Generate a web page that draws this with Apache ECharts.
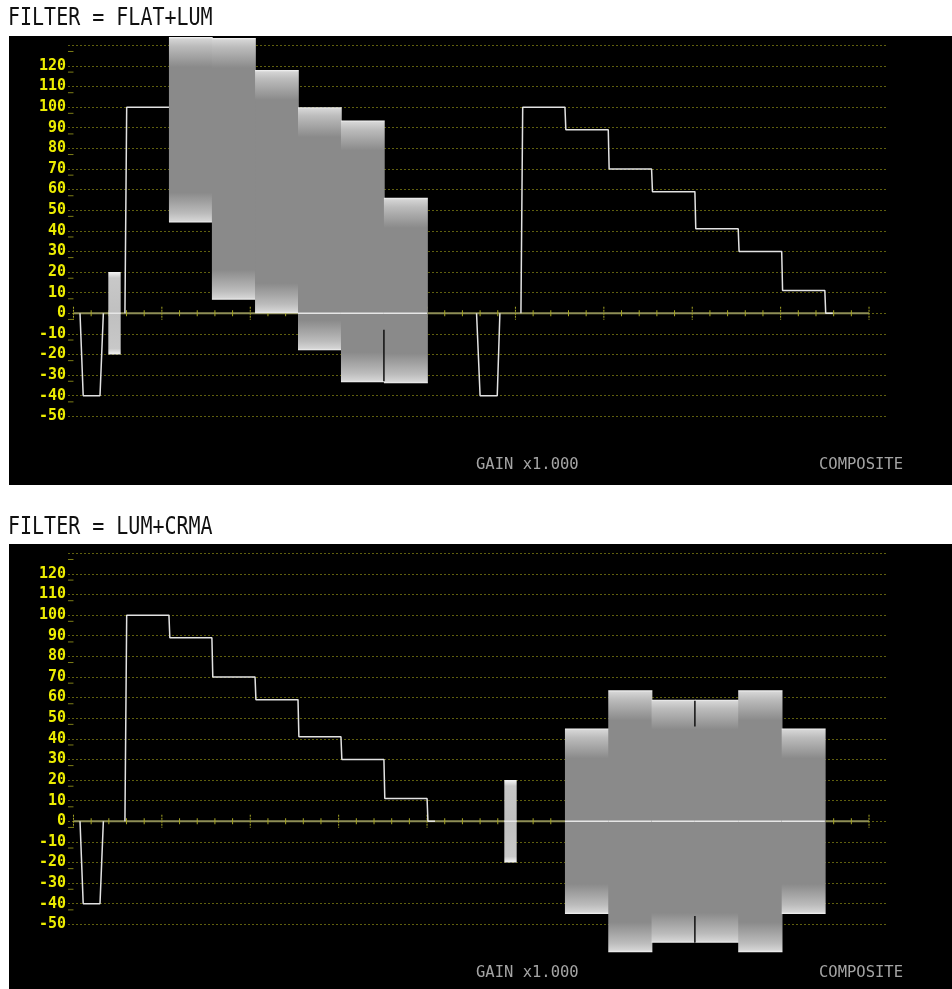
<!DOCTYPE html>
<html>
<head>
<meta charset="utf-8">
<title>Waveform monitor – FLAT+LUM / LUM+CRMA</title>
<script src="https://cdn.jsdelivr.net/npm/echarts@6/dist/echarts.min.js"></script>
<style>
  html, body { margin: 0; padding: 0; background: #ffffff; }
  #chart { width: 952px; height: 989px; }
</style>
</head>
<body>
<div id="chart"></div>
<script>
// ---- Graticule ---------------------------------------------------------
// Vertical scale in IRE, horizontal scale in graticule divisions (2H sweep).
const scaleLabels = [120, 110, 100, 90, 80, 70, 60, 50, 40, 30, 20, 10, 0, -10, -20, -30, -40, -50];
const refMarks = [127, 117, 107, 97, 87, 77, 67, 57, 47, 37, 27, 17, 7, -3, -13, -23, -33, -43];
const timeTicks = [0, 1, 2, 3, 4, 5, 6, 7, 8, 9, 10, 11, 12, 13, 14, 15, 16, 17, 18, 19, 20, 21, 22,
                   23, 24, 25, 26, 27, 28, 29, 30, 31, 32, 33, 34, 35, 36, 37, 38, 39, 40, 41, 42, 43, 44, 45];
const traceSpan = [0, 45];

// ---- 100% colour bar signal, two lines ---------------------------------
const syncTip = -40;
const burstHalf = 20;
// white, yellow, cyan, green, magenta, red, blue, black
const stepLuma = [100, 89, 70, 59, 41, 30, 11, 0];
const barChromaHalf = [45, 63.5, 59, 59, 63.5, 45];
const line1Edges = [3.01, 5.40, 7.83, 10.27, 12.70, 15.13, 17.56, 20.00];
const line2Edges = [25.41, 27.80, 30.25, 32.70, 35.15, 37.60, 40.06, 42.50];
const sync1 = [0.37, 0.55, 1.50, 1.69];
const sync2 = [22.80, 23.00, 23.97, 24.12];
const burst1 = [1.97, 2.67];
const burst2 = [24.37, 25.07];
// dark phase-switch seams inside the chroma envelopes: [time, from, to]
const seamsFlat = [[17.56, -8, -33]];
const seamsCrma = [[35.15, 58.5, 46], [35.15, -46, -59]];

// ---- Builders ----------------------------------------------------------
function syncPulse(s) {
  return [[s[0], 0], [s[1], syncTip], [s[2], syncTip], [s[3], 0]];
}
function staircase(edges) {
  const pts = [[edges[0] - 0.1, 0], [edges[0], stepLuma[0]]];
  for (let i = 1; i < edges.length; i++) {
    pts.push([edges[i], stepLuma[i - 1]]);
    pts.push([edges[i] + 0.05, stepLuma[i]]);
  }
  pts.push([edges[edges.length - 1] + 0.45, 0]);
  return pts;
}
function whiteBar(edges) {
  return [[edges[0] - 0.1, 0], [edges[0], stepLuma[0]], [edges[1], stepLuma[0]]];
}
// block: [start, end, low, high, kind]  kind 0 = chroma bar, 1 = burst
function lumaChromaBars(edges) {
  const out = [];
  for (let i = 0; i < barChromaHalf.length; i++) {
    const y = stepLuma[i + 1];
    out.push([edges[i + 1], edges[i + 2], y - barChromaHalf[i], y + barChromaHalf[i], 0]);
  }
  return out;
}
function chromaOnly(edges) {
  const out = [];
  for (let i = 0; i < barChromaHalf.length; i++) {
    out.push([edges[i + 1], edges[i + 2], -barChromaHalf[i], barChromaHalf[i], 0]);
  }
  return out;
}

const flatBlocks = [[burst1[0], burst1[1], -burstHalf, burstHalf, 1]].concat(lumaChromaBars(line1Edges));
const crmaBlocks = [[burst2[0], burst2[1], -burstHalf, burstHalf, 1]].concat(chromaOnly(line2Edges));
const flatTraces = [syncPulse(sync1), whiteBar(line1Edges), syncPulse(sync2), staircase(line2Edges)];
const crmaTraces = [syncPulse(sync1), staircase(line1Edges)];

// ---- Styling helpers ---------------------------------------------------
const FONT = '"DejaVu Sans Mono", "Liberation Mono", monospace';
const GRID_DOT = '#5f5f0e';

function blockItem(params, api) {
  const x0 = api.value(0), x1 = api.value(1), lo = api.value(2), hi = api.value(3), kind = api.value(4);
  const tl = api.coord([x0, hi]);
  const br = api.coord([x1, lo]);
  // small overlap so neighbouring envelopes join without a seam
  const w = br[0] - tl[0] + (kind === 1 ? 0 : 0.8), h = br[1] - tl[1];
  const f = px => Math.min(0.5, px / h);
  let stops;
  if (kind === 1) {
    stops = [[0, '#f6f6f6'], [f(3), '#dedede'], [f(6), '#c8c8c8'], [0.5, '#c0c0c0'],
             [1 - f(6), '#c8c8c8'], [1 - f(3), '#dedede'], [1, '#f6f6f6']];
  } else {
    stops = [[0, '#f4f4f4'], [f(2), '#d4d4d4'], [f(9), '#bcbcbc'], [f(30), '#8a8a8a'],
             [1 - f(30), '#8a8a8a'], [1 - f(9), '#bcbcbc'], [1 - f(2), '#d4d4d4'], [1, '#f4f4f4']];
  }
  const children = [{
    type: 'rect',
    shape: { x: tl[0], y: tl[1], width: w, height: h },
    style: {
      fill: {
        type: 'linear', x: 0, y: 0, x2: 0, y2: 1,
        colorStops: stops.map(s => ({ offset: s[0], color: s[1] }))
      }
    }
  }];
  if (lo < 0 && hi > 0) {
    const zy = api.coord([x0, 0])[1];
    children.push({
      type: 'line',
      shape: { x1: tl[0], y1: zy, x2: br[0], y2: zy },
      style: { stroke: '#e6e6e6', lineWidth: 1.5 }
    });
  }
  return { type: 'group', children };
}

function zeroLineItem(params, api) {
  const a = api.coord([api.value(0), 0]);
  const b = api.coord([api.value(1), 0]);
  return {
    type: 'line',
    shape: { x1: a[0], y1: a[1], x2: b[0], y2: b[1] },
    style: { stroke: '#8e8e56', lineWidth: 2 }
  };
}

function tickItem(params, api) {
  const t = api.value(0);
  const p = api.coord([t, 0]);
  const major = t % 5 === 0;
  const half = major ? 6.5 : 3;
  return {
    type: 'line',
    shape: { x1: p[0], y1: p[1] - half, x2: p[0], y2: p[1] + half },
    style: { stroke: '#a6a624', lineWidth: 1, lineDash: major ? [2, 1] : null }
  };
}

function refMarkItem(params, api) {
  const p = api.coord([0, api.value(0)]);
  return {
    type: 'line',
    shape: { x1: p[0] - 5.5, y1: p[1], x2: p[0], y2: p[1] },
    style: { stroke: '#7e7e16', lineWidth: 1 }
  };
}

function seamItem(params, api) {
  const a = api.coord([api.value(0), api.value(1)]);
  const b = api.coord([api.value(0), api.value(2)]);
  return {
    type: 'line',
    shape: { x1: a[0], y1: a[1], x2: b[0], y2: b[1] },
    style: { stroke: '#101010', lineWidth: 1.5 }
  };
}

// ---- Panels ------------------------------------------------------------
const PANEL_SHIFT = 508;
const panels = [
  { title: 'FILTER = FLAT+LUM', blocks: flatBlocks, traces: flatTraces, seams: seamsFlat },
  { title: 'FILTER = LUM+CRMA', blocks: crmaBlocks, traces: crmaTraces, seams: seamsCrma }
];

const grids = [], xAxes = [], yAxes = [], series = [], graphics = [];

panels.forEach((pnl, i) => {
  const dy = i * PANEL_SHIFT;
  grids.push({ left: 68, top: 45.3 + dy, width: 818, height: 371, containLabel: false });
  xAxes.push({ type: 'value', gridIndex: i, min: -0.31, max: 45.96, show: false });
  yAxes.push({
    type: 'value', gridIndex: i, min: -50, max: 130, interval: 10,
    axisLine: { show: false }, axisTick: { show: false },
    splitLine: { show: true, lineStyle: { color: GRID_DOT, width: 1, type: [2, 2] } },
    axisLabel: {
      color: '#ecec00', fontFamily: FONT, fontSize: 15, fontWeight: 'bold', margin: 2,
      formatter: v => (scaleLabels.indexOf(v) >= 0 ? String(v) : '')
    }
  });

  const ax = { xAxisIndex: i, yAxisIndex: i };
  series.push(Object.assign({
    type: 'custom', z: 1, clip: false, silent: true,
    data: [traceSpan], renderItem: zeroLineItem
  }, ax));
  series.push(Object.assign({
    type: 'custom', z: 1, clip: false, silent: true,
    data: timeTicks.map(t => [t]), renderItem: tickItem
  }, ax));
  series.push(Object.assign({
    type: 'custom', z: 1, clip: false, silent: true,
    data: refMarks.map(v => [v]), renderItem: refMarkItem
  }, ax));
  series.push(Object.assign({
    type: 'custom', z: 2, clip: false, silent: true,
    data: pnl.blocks, renderItem: blockItem
  }, ax));
  pnl.traces.forEach(tr => {
    series.push(Object.assign({
      type: 'line', z: 3, data: tr, showSymbol: false, silent: true, clip: false,
      lineStyle: { color: '#e2e2e2', width: 1.5 }
    }, ax));
  });
  series.push(Object.assign({
    type: 'custom', z: 4, clip: false, silent: true,
    data: pnl.seams, renderItem: seamItem
  }, ax));

  graphics.push({
    type: 'rect', z: -10, silent: true,
    shape: { x: 9, y: 36 + dy, width: 943, height: 449 },
    style: { fill: '#000000' }
  });
  graphics.push({
    type: 'text', x: 8, y: 18.7 + dy + (i ? 1.3 : 0), scaleX: 0.833, z: 10,
    style: { text: pnl.title, font: '24px ' + FONT, fill: '#111111', verticalAlign: 'middle', align: 'left' }
  });
  graphics.push({
    type: 'text', x: 476, y: 465 + dy, z: 10,
    style: { text: 'GAIN x1.000', font: '15.5px ' + FONT, fill: '#a4a4a4', verticalAlign: 'middle', align: 'left' }
  });
  graphics.push({
    type: 'text', x: 819, y: 465 + dy, z: 10,
    style: { text: 'COMPOSITE', font: '15.5px ' + FONT, fill: '#a4a4a4', verticalAlign: 'middle', align: 'left' }
  });
});

const chart = echarts.init(document.getElementById('chart'), null, { renderer: 'canvas' });
chart.setOption({
  backgroundColor: '#ffffff',
  animation: false,
  grid: grids,
  xAxis: xAxes,
  yAxis: yAxes,
  graphic: { elements: graphics },
  series: series
});
</script>
</body>
</html>
